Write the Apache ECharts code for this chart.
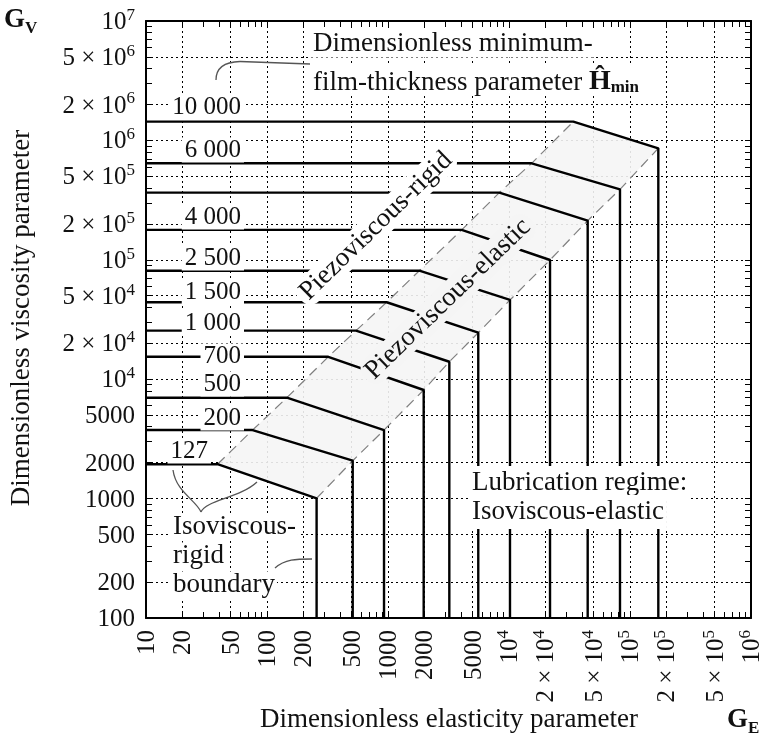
<!DOCTYPE html>
<html>
<head>
<meta charset="utf-8">
<script src="https://cdn.jsdelivr.net/npm/echarts@6/dist/echarts.min.js"></script>
<style>
html,body{margin:0;padding:0;background:#fff;}
#chart{width:770px;height:742px;}
</style>
</head>
<body>
<div id="chart"></div>
<script>
// ---- data ----
const hLabels    = ['127', '200', '500', '700', '1 000', '1 500', '2 500', '4 000', '', '6 000', '10 000'];
const gvPlateau  = [1940, 3750, 7000, 15400, 25500, 44100, 81000, 178000, 365000, 643000, 1435000];
const geKnee     = [39, 76, 146, 321, 544, 975, 1815, 4065, 8320, 15400, 34000];
const geVertical = [257, 511, 927, 1972, 3212, 5572, 10190, 21830, 44700, 82660, 171400];
const gvKnee     = [1006, 2077, 3750, 8120, 14000, 24500, 46100, 99600, 213000, 389000, 859000];

const xTickVals   = [10, 20, 50, 100, 200, 500, 1000, 2000, 5000, 1e4, 2e4, 5e4, 1e5, 2e5, 5e5, 1e6];
const xTickLabels = ['10', '20', '50', '100', '200', '500', '1000', '2000', '5000', '10^4', '2 × 10^4', '5 × 10^4', '10^5', '2 × 10^5', '5 × 10^5', '10^6'];
const yTickVals   = [100, 200, 500, 1000, 2000, 5000, 1e4, 2e4, 5e4, 1e5, 2e5, 5e5, 1e6, 2e6, 5e6, 1e7];
const yTickLabels = ['100', '200', '500', '1000', '2000', '5000', '10^4', '2 × 10^4', '5 × 10^4', '10^5', '2 × 10^5', '5 × 10^5', '10^6', '2 × 10^6', '5 × 10^6', '10^7'];

const X_MIN = 10, X_MAX = 1e6, Y_MIN = 100, Y_MAX = 1e7;

// ---- helpers ----
const SERIF = "'Liberation Serif', 'DejaVu Serif', serif";
function minorTicks(lo, hi) {
  const out = [];
  for (let d = lo; d < hi; d *= 10) for (let k = 1; k < 10; k++) out.push(Math.round(k * d));
  out.push(hi);
  return out;
}
const xMinor = minorTicks(X_MIN, X_MAX);
const yMinor = minorTicks(Y_MIN, Y_MAX);
const xGrid = xTickVals.slice(1, -1);
const yGrid = yTickVals.slice(1, -1);

function toRich(lbl) {
  const m = lbl.match(/^(.*)\^(\d+)$/);
  if (m) return '{b|' + m[1] + '}{s|' + m[2] + '}';
  return '{b|' + lbl + '}';
}
function labelFor(vals, lbls) {
  return function (v) {
    const i = vals.findIndex(t => Math.abs(t - v) / t < 1e-6);
    return i < 0 ? '' : toRich(lbls[i]);
  };
}
const richTick = {
  b: { fontFamily: SERIF, fontSize: 25, color: '#111', lineHeight: 28, verticalAlign: 'bottom' },
  s: { fontFamily: SERIF, fontSize: 17, color: '#111', lineHeight: 17, verticalAlign: 'top' }
};

const frameLine = { show: true, lineStyle: { color: '#000', width: 2 } };
const gridLine = { show: true, lineStyle: { color: '#000', width: 1, type: [2, 3] } };
function logAxis(extra, lo, hi) {
  return Object.assign({
    type: 'log', logBase: 10, min: lo, max: hi,
    axisLine: { show: false }, axisTick: { show: false },
    axisLabel: { show: false }, splitLine: { show: false }, minorTick: { show: false }
  }, extra);
}

const xAxes = [
  logAxis({ position: 'bottom', axisLine: frameLine,
    axisTick: { show: true, inside: true, length: 6, customValues: xMinor, lineStyle: { color: '#000', width: 1 } },
    axisLabel: { show: true, customValues: xTickVals, rotate: 90, margin: 12, formatter: labelFor(xTickVals, xTickLabels), rich: richTick, showMinLabel: true, showMaxLabel: true, hideOverlap: false }
  }, X_MIN, X_MAX),
  logAxis({ position: 'top', axisLine: frameLine,
    axisTick: { show: true, inside: true, length: 6, customValues: xMinor, lineStyle: { color: '#000', width: 1 } }
  }, X_MIN, X_MAX),
  logAxis({ position: 'bottom',
    axisTick: { show: false, customValues: xGrid }, splitLine: gridLine
  }, X_MIN, X_MAX)
];
const yAxes = [
  logAxis({ position: 'left', axisLine: frameLine,
    axisTick: { show: true, inside: true, length: 6, customValues: yMinor, lineStyle: { color: '#000', width: 1 } },
    axisLabel: { show: true, customValues: yTickVals, margin: 11, formatter: labelFor(yTickVals, yTickLabels), rich: richTick, showMinLabel: true, showMaxLabel: true, hideOverlap: false }
  }, Y_MIN, Y_MAX),
  logAxis({ position: 'right', axisLine: frameLine,
    axisTick: { show: true, inside: true, length: 6, customValues: yMinor, lineStyle: { color: '#000', width: 1 } }
  }, Y_MIN, Y_MAX),
  logAxis({ position: 'left',
    axisTick: { show: false, customValues: yGrid }, splitLine: gridLine
  }, Y_MIN, Y_MAX)
];

// ---- series ----
const curveSeries = hLabels.map((name, i) => ({
  type: 'line', name: name || 'unlabeled', symbol: 'none', z: 4, animation: false,
  lineStyle: { color: '#000', width: 2.4 },
  data: [[X_MIN, gvPlateau[i]], [geKnee[i], gvPlateau[i]], [geVertical[i], gvKnee[i]], [geVertical[i], Y_MIN]]
}));
const upperBoundary = geKnee.map((x, i) => [x, gvPlateau[i]]);
const lowerBoundary = geVertical.map((x, i) => [x, gvKnee[i]]);
const dashStyle = { color: '#808080', width: 1.2, type: [10, 6] };
const BAND = '#f5f5f5';

const bandSeries = {
  type: 'custom', z: 2, animation: false, silent: true,
  data: [[100, 1000]],
  renderItem: function (params, api) {
    const pts = upperBoundary.concat(lowerBoundary.slice().reverse()).map(p => api.coord(p));
    return { type: 'polygon', shape: { points: pts }, style: { fill: BAND, opacity: 0.9 } };
  }
};

// ---- annotations ----
const txt = (text, x, y, extra) => Object.assign({
  type: 'text', x: x, y: y, z: 100,
  style: Object.assign({ text: text, font: '27px ' + SERIF, fill: '#111', align: 'left', verticalAlign: 'middle' }, extra || {})
});
const wtxt = (text, x, y, pad) => txt(text, x, y, { backgroundColor: '#fff', padding: pad || [0, 2] });
const curveLabel = (text, xr, y) => txt(text, xr, y, { font: '25px ' + SERIF, align: 'right', backgroundColor: '#fff', padding: [0, 3] });
const curveLabelPos = [[211, 451], [244, 418], [244, 384], [244, 356], [244, 323], [244, 292], [244, 258], [244, 217], null, [244, 150], [244, 107]];
const bez = (x1, y1, c1x, c1y, c2x, c2y, x2, y2) => ({
  type: 'bezierCurve', z: 100,
  shape: { x1: x1, y1: y1, cpx1: c1x, cpy1: c1y, cpx2: c2x, cpy2: c2y, x2: x2, y2: y2 },
  style: { stroke: '#555', lineWidth: 1.3, fill: null }
});

const graphics = [];
hLabels.forEach((l, i) => { if (l && curveLabelPos[i]) graphics.push(curveLabel(l, curveLabelPos[i][0], curveLabelPos[i][1])); });
graphics.push(
  wtxt('Dimensionless minimum-', 311, 44),
  {
    type: 'text', x: 311, y: 81, z: 100,
    style: {
      text: '{a|film-thickness parameter }{h|Ĥ}{m|min}', verticalAlign: 'middle', align: 'left',
      backgroundColor: '#fff', padding: [0, 2],
      rich: {
        a: { fontFamily: SERIF, fontSize: 27, fill: '#111', lineHeight: 30, verticalAlign: 'bottom' },
        h: { fontFamily: SERIF, fontSize: 28, fontWeight: 'bold', fill: '#111', lineHeight: 30, verticalAlign: 'bottom' },
        m: { fontFamily: SERIF, fontSize: 17, fontWeight: 'bold', fill: '#111', lineHeight: 17, verticalAlign: 'bottom' }
      }
    }
  },
  bez(216, 80, 216, 68, 224, 62, 240, 61.5),
  { type: 'line', z: 100, shape: { x1: 240, y1: 61.5, x2: 310, y2: 64 }, style: { stroke: '#555', lineWidth: 1.3 } },
  wtxt('Lubrication regime:', 469, 483, [5, 3, 2, 3]),
  wtxt('Isoviscous-elastic', 469, 512, [2, 3, 5, 3]),
  wtxt('Isoviscous-', 171, 527, [0, 2]),
  wtxt('rigid', 171, 556, [0, 2]),
  wtxt('boundary', 171, 585, [0, 2]),
  bez(173, 470, 176, 492, 196, 500, 201, 512),
  bez(201, 512, 206, 500, 240, 498, 257, 482),
  bez(275, 568, 285, 559, 296, 559, 312, 559),
  {
    type: 'text', x: 376, y: 226, rotation: 44 * Math.PI / 180, z: 100,
    style: { text: 'Piezoviscous-rigid', font: '27px ' + SERIF, fill: '#111', align: 'center', verticalAlign: 'middle', backgroundColor: '#fff', padding: [1, 5], borderRadius: 12 }
  },
  {
    type: 'text', x: 448, y: 299, rotation: 44 * Math.PI / 180, z: 100,
    style: { text: 'Piezoviscous-elastic', font: '27px ' + SERIF, fill: '#111', align: 'center', verticalAlign: 'middle', backgroundColor: BAND, padding: [1, 5], borderRadius: 12 }
  },
  {
    type: 'text', x: 22, y: 318, rotation: Math.PI / 2, z: 100,
    style: { text: 'Dimensionless viscosity parameter', font: '27px ' + SERIF, fill: '#111', align: 'center', verticalAlign: 'middle' }
  },
  txt('Dimensionless elasticity parameter', 449, 720, { align: 'center' }),
  {
    type: 'text', x: 4, y: 22, z: 100,
    style: { text: '{g|G}{v|V}', verticalAlign: 'middle', align: 'left',
      rich: { g: { fontFamily: SERIF, fontSize: 27, fontWeight: 'bold', fill: '#111', lineHeight: 30, verticalAlign: 'top' },
              v: { fontFamily: SERIF, fontSize: 17, fontWeight: 'bold', fill: '#111', lineHeight: 17, verticalAlign: 'bottom' } } }
  },
  {
    type: 'text', x: 727, y: 722, z: 100,
    style: { text: '{g|G}{v|E}', verticalAlign: 'middle', align: 'left',
      rich: { g: { fontFamily: SERIF, fontSize: 27, fontWeight: 'bold', fill: '#111', lineHeight: 30, verticalAlign: 'top' },
              v: { fontFamily: SERIF, fontSize: 17, fontWeight: 'bold', fill: '#111', lineHeight: 17, verticalAlign: 'bottom' } } }
  }
);

const chart = echarts.init(document.getElementById('chart'), null, { renderer: 'canvas' });
chart.setOption({
  animation: false,
  backgroundColor: '#fff',
  grid: { left: 146, right: 19, top: 21, bottom: 124, containLabel: false, outerBoundsMode: 'none' },
  xAxis: xAxes,
  yAxis: yAxes,
  series: [bandSeries,
    { type: 'line', symbol: 'none', z: 3, animation: false, lineStyle: dashStyle, data: upperBoundary },
    { type: 'line', symbol: 'none', z: 3, animation: false, lineStyle: dashStyle, data: lowerBoundary }
  ].concat(curveSeries),
  graphic: { elements: graphics }
});
</script>
</body>
</html>
